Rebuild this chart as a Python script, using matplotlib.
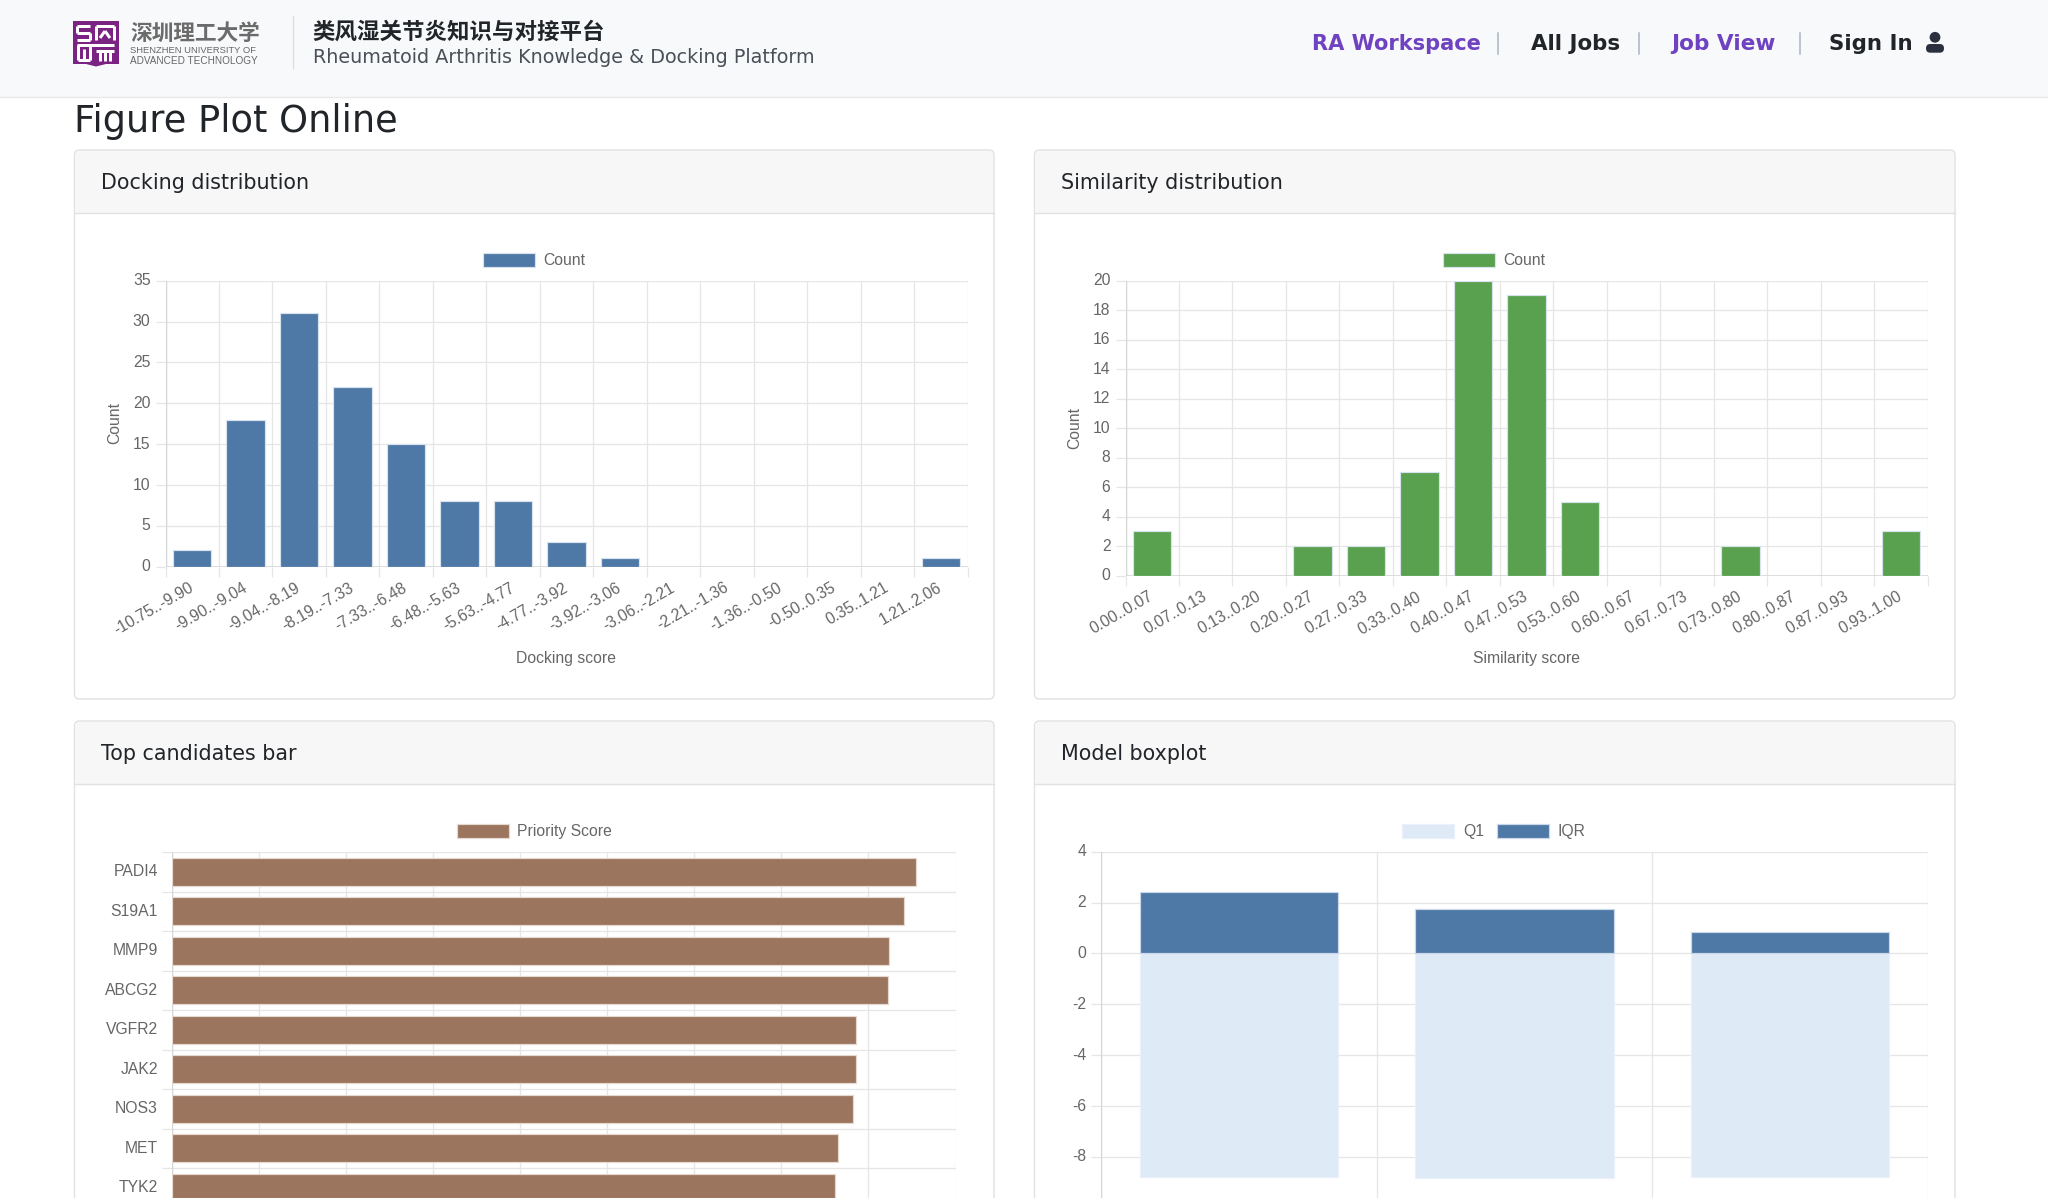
import matplotlib
matplotlib.use("Agg")
import matplotlib.pyplot as plt
from matplotlib.patches import Rectangle, FancyBboxPatch, Circle, Patch
from matplotlib.transforms import ScaledTranslation

plt.rcParams["axes.unicode_minus"] = False

W, H = 2048, 1198

dock_labels = ["-10.75..-9.90", "-9.90..-9.04", "-9.04..-8.19", "-8.19..-7.33", "-7.33..-6.48",
               "-6.48..-5.63", "-5.63..-4.77", "-4.77..-3.92", "-3.92..-3.06", "-3.06..-2.21",
               "-2.21..-1.36", "-1.36..-0.50", "-0.50..0.35", "0.35..1.21", "1.21..2.06"]
dock_counts = [2, 18, 31, 22, 15, 8, 8, 3, 1, 0, 0, 0, 0, 0, 1]

sim_labels = ["0.00..0.07", "0.07..0.13", "0.13..0.20", "0.20..0.27", "0.27..0.33",
              "0.33..0.40", "0.40..0.47", "0.47..0.53", "0.53..0.60", "0.60..0.67",
              "0.67..0.73", "0.73..0.80", "0.80..0.87", "0.87..0.93", "0.93..1.00"]
sim_counts = [3, 0, 0, 2, 2, 7, 20, 19, 5, 0, 0, 2, 0, 0, 3]

genes = ["PADI4", "S19A1", "MMP9", "ABCG2", "VGFR2", "JAK2", "NOS3", "MET", "TYK2"]
priority = [0.855, 0.841, 0.824, 0.822, 0.786, 0.786, 0.782, 0.765, 0.762]

box_q1 = [-8.80, -8.83, -8.78]
box_iqr = [2.40, 1.75, 0.83]

BLUE = "#4e79a7"
GREEN = "#59a14f"
BROWN = "#9c755f"
PALE = "#dfeaf7"
GRID = "#e6e6e6"
AXIS = "#d6d6d6"
TICK = "#666666"
DARK = "#212529"
PURPLE = "#6f42c1"
CHART_FONT = "Liberation Sans"


def pt(px):
    return px * 0.72


def axes_px(x0, y0, x1, y1):
    # pixel box, y measured from the top of the page
    return fig.add_axes([x0 / W, 1 - y1 / H, (x1 - x0) / W, (y1 - y0) / H], facecolor="none")


def nudge_up(labels, px):
    for lab in labels:
        lab.set_transform(lab.get_transform() + ScaledTranslation(0, px / 100, fig.dpi_scale_trans))


def style_axes(ax):
    for s in ax.spines.values():
        s.set_visible(False)
    ax.set_axisbelow(True)
    ax.grid(True, which="major", color=GRID, lw=pt(1.3))
    ax.tick_params(which="major", length=pt(10), width=pt(1.3), color=GRID, labelsize=pt(15.7),
                   labelcolor=TICK, pad=pt(5))
    for lab in ax.get_xticklabels() + ax.get_yticklabels():
        lab.set_family(CHART_FONT)


def legend(handles, cx, cy):
    leg = fig.legend(handles=handles, loc="center", bbox_to_anchor=(cx / W, 1 - cy / H),
                     ncol=len(handles), frameon=False,
                     handlelength=3.3, handleheight=1.0, handletextpad=0.55,
                     columnspacing=0.85, borderpad=0, borderaxespad=0,
                     prop={"family": CHART_FONT, "size": pt(15.7)})
    for t in leg.get_texts():
        t.set_color(TICK)


def hist_panel(box, labels, counts, color, yticks, xlabel, xlabel_y, ylabel_x, ylabel_y):
    ax = axes_px(*box)
    n = len(labels)
    ax.bar(range(n), counts, width=0.72, color=color, edgecolor="#d8e2ec", linewidth=pt(1.2), zorder=3)
    ax.set_xlim(-0.5, n - 0.5)
    ax.set_ylim(yticks[0], yticks[-1])
    ax.set_xticks([i - 0.5 for i in range(n + 1)])
    ax.set_xticklabels([])
    ax.set_xticks(range(n), labels, minor=True, rotation=30, ha="right", va="center",
                  rotation_mode="anchor", family=CHART_FONT, fontsize=pt(15.7), color=TICK)
    ax.set_yticks(yticks)
    style_axes(ax)
    ax.tick_params(axis="x", which="minor", length=0, pad=pt(20))
    ax.axhline(0, color=AXIS, lw=pt(1.6), zorder=2)
    ax.axvline(-0.5, color=AXIS, lw=pt(1.4), zorder=2)
    nudge_up(ax.get_yticklabels(), 1.3)
    cx = (box[0] + box[2]) / 2
    page.text(cx, xlabel_y, xlabel, ha="center", va="center", family=CHART_FONT,
              fontsize=pt(15.7), color=TICK)
    page.text(ylabel_x, ylabel_y, "Count", ha="center", va="center", rotation=90, family=CHART_FONT,
              fontsize=pt(15.7), color=TICK)
    return ax


def card(x0, y0, x1, y1, head_bottom, title):
    page.add_patch(FancyBboxPatch((x0 + 4, y0 + 4), x1 - x0 - 8, y1 - y0 - 8,
                                  boxstyle="round,pad=4,rounding_size=5",
                                  fc="white", ec="#e1e1e1", lw=pt(1.4), zorder=1))
    page.add_patch(FancyBboxPatch((x0 + 5, y0 + 5), x1 - x0 - 10, head_bottom - y0 - 8,
                                  boxstyle="round,pad=4,rounding_size=4",
                                  fc="#f7f7f7", ec="none", zorder=1.1))
    page.add_patch(Rectangle((x0 + 1, y0 + 12), x1 - x0 - 2, head_bottom - y0 - 12,
                             fc="#f7f7f7", ec="none", zorder=1.1))
    page.plot([x0, x1], [head_bottom, head_bottom], color="#e1e1e1", lw=pt(1.4), zorder=1.2)
    page.text(x0 + 26.5, (y0 + head_bottom) / 2 + 1.8, title, va="center", ha="left",
              fontsize=pt(20.6), color=DARK, zorder=2)


fig = plt.figure(figsize=(W / 100, H / 100), dpi=100, facecolor="white")

# page furniture lives on one full-size axes in pixel units
page = fig.add_axes([0, 0, 1, 1], zorder=-1)
page.set_xlim(0, W)
page.set_ylim(H, 0)
page.axis("off")

page.add_patch(Rectangle((0, 0), W, 97, fc="#f8f9fa", ec="none"))
page.plot([0, W], [97, 97], color="#e9e9e9", lw=pt(1.4))

# logo block
page.add_patch(Rectangle((73, 20.5), 45.5, 43.5, fc="#7b2382", ec="none"))
page.fill([86, 96, 106], [64, 66.5, 64], color="#7b2382", lw=0)
for seg in [((77, 26), (90, 26)), ((77, 26), (77, 33)), ((77, 33), (90, 33)), ((90, 33), (90, 40)),
            ((77, 40), (90, 40)), ((96, 26), (114, 26)), ((96, 26), (96, 40)), ((114, 26), (114, 40)),
            ((100, 38), (105, 31)), ((105, 31), (110, 38)), ((77, 45), (114, 45)),
            ((78, 45), (78, 60)), ((78, 60), (90, 60)), ((90, 45), (90, 60)), ((84, 49), (84, 60)),
            ((96, 51), (114, 51)), ((100, 51), (100, 61)), ((105, 51), (105, 61)), ((110, 51), (110, 61))]:
    page.plot(*zip(*seg), color="white", lw=pt(3), solid_capstyle="butt")
page.text(130, 33, "深圳理工大学", family="Noto Sans CJK SC", fontweight="bold", fontsize=pt(21.7),
          color="#6b6b6b", va="center", ha="left")
page.text(130, 50.5, "SHENZHEN UNIVERSITY OF", family="Liberation Sans", fontsize=pt(9.4), color="#666666",
          va="center", ha="left")
page.text(130, 60.5, "ADVANCED TECHNOLOGY", family="Liberation Sans", fontsize=pt(10), color="#666666",
          va="center", ha="left")
page.plot([293, 293], [16, 68], color="#dddddd", lw=pt(1.3))

page.text(312, 32, "类风湿关节炎知识与对接平台", family="Noto Sans CJK SC", fontweight="bold",
          fontsize=pt(22.45), color=DARK, va="center", ha="left")
page.text(313, 57.8, "Rheumatoid Arthritis Knowledge & Docking Platform", fontsize=pt(19.2),
          color="#495057", va="center", ha="left")

# nav links
for label, x, size, color in [("RA Workspace", 1312, 21, PURPLE), ("All Jobs", 1531, 21.4, DARK),
                              ("Job View", 1671, 21.6, PURPLE), ("Sign In", 1829, 21.4, DARK)]:
    page.text(x, 43.5, label, fontsize=pt(size), fontweight="bold", color=color, va="center", ha="left")
for x in [1498, 1639, 1800]:
    page.plot([x, x], [33, 54], color="#a9b4c0", lw=pt(1.5))
page.add_patch(Circle((1935, 37.3), 5.4, fc="#2b3040", ec="none"))
page.add_patch(FancyBboxPatch((1926, 44), 18, 8.7, boxstyle="round,pad=0,rounding_size=4.3",
                              fc="#2b3040", ec="none"))

page.text(74, 131.5, "Figure Plot Online", fontsize=pt(36.8), color=DARK, va="baseline", ha="left")

card(74.5, 150, 994, 699, 213, "Docking distribution")
card(1034.5, 150, 1955, 699, 213, "Similarity distribution")
card(74.5, 721, 994, 1260, 784, "Top candidates bar")
card(1034.5, 721, 1955, 1260, 784, "Model boxplot")

hist_panel((165.5, 280.7, 967.5, 566.5), dock_labels, dock_counts, BLUE, list(range(0, 36, 5)),
           "Docking score", 658, 115, 423)
hist_panel((1125.5, 280.7, 1927.5, 575.5), sim_labels, sim_counts, GREEN, list(range(0, 21, 2)),
           "Similarity score", 658, 1075, 428)
legend([Patch(fc=BLUE, ec="#d8e2ec", lw=pt(1.2), label="Count")], 534, 260.5)
legend([Patch(fc=GREEN, ec="#d8e2ec", lw=pt(1.2), label="Count")], 1494.5, 260.5)

# horizontal priority bars, the list runs on past the page bottom
ax_bar = axes_px(172, 852, 955.5, 852 + 39.5 * 9)
ax_bar.barh(range(len(genes)), priority, height=0.72, color=BROWN, edgecolor="#e5d8cf",
            linewidth=pt(1.2), zorder=3)
ax_bar.set_xlim(0, 0.9)
ax_bar.set_ylim(len(genes) - 0.5, -0.5)
ax_bar.set_xticks([i / 10 for i in range(10)])
ax_bar.set_xticklabels([])
ax_bar.set_yticks([i - 0.5 for i in range(len(genes) + 1)])
ax_bar.set_yticklabels([])
ax_bar.set_yticks(range(len(genes)), genes, minor=True, family=CHART_FONT, fontsize=pt(15.7), color=TICK)
style_axes(ax_bar)
ax_bar.tick_params(axis="y", which="minor", length=0, pad=pt(14))
ax_bar.axvline(0, color=AXIS, lw=pt(1.4), zorder=2)
nudge_up(ax_bar.get_yticklabels(minor=True), 1.5)
legend([Patch(fc=BROWN, ec="#e5d8cf", lw=pt(1.2), label="Priority Score")], 534.5, 831.5)

# stacked quartile bars
ax_box = axes_px(1101.3, 851.7, 1927.5, 851.7 + 25.42 * 14)
x_pos = range(len(box_q1))
ax_box.bar(x_pos, box_q1, width=0.72, color=PALE, edgecolor="#eaf1fa", linewidth=pt(1.2), zorder=3, label="Q1")
ax_box.bar(x_pos, box_iqr, width=0.72, color=BLUE, edgecolor="#c9d7e6", linewidth=pt(1.2), zorder=3, label="IQR")
ax_box.set_xlim(-0.5, 2.5)
ax_box.set_ylim(-10, 4)
ax_box.set_xticks([-0.5, 0.5, 1.5, 2.5])
ax_box.set_xticklabels([])
ax_box.set_yticks(range(-8, 5, 2))
style_axes(ax_box)
ax_box.axvline(-0.5, color=AXIS, lw=pt(1.4), zorder=2)
nudge_up(ax_box.get_yticklabels(), 1.3)
legend([Patch(fc=PALE, ec="#eaf1fa", lw=pt(1.2), label="Q1"),
        Patch(fc=BLUE, ec="#c9d7e6", lw=pt(1.2), label="IQR")], 1494, 831.5)

fig.savefig("out.png", dpi=100)
